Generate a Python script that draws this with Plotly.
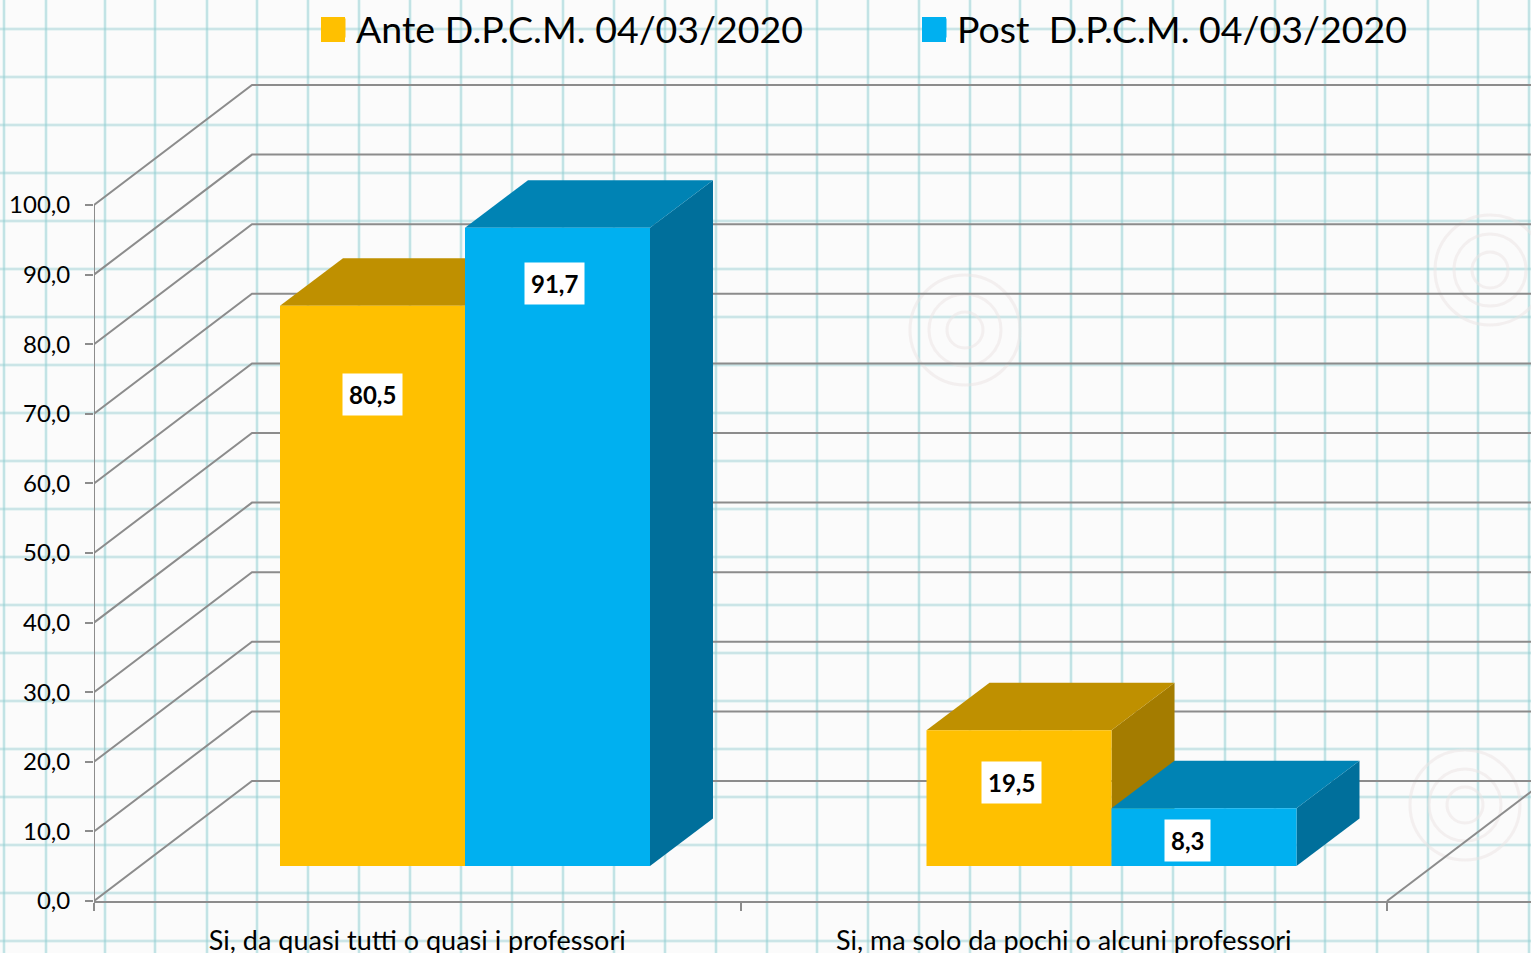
import plotly.graph_objects as go

categories = ["Si, da quasi tutti o quasi i professori", "Si, ma solo da pochi o alcuni professori"]
ante_values = [80.5, 19.5]
post_values = [91.7, 8.3]
y_ticks = [0, 10, 20, 30, 40, 50, 60, 70, 80, 90, 100]
series_names = ["Ante D.P.C.M. 04/03/2020", "Post  D.P.C.M. 04/03/2020"]

W, H = 1531, 953
ML, MB = 94, 52
PX_CAT = 646.5      # pixels per category
PX_VAL = 6.96       # pixels per value unit
px2x = lambda p: p / PX_CAT
px2v = lambda p: p / PX_VAL

WALL_DX, WALL_DV = px2x(158), px2v(120)
BAR_DX, BAR_DV = px2x(63), px2v(47.5)
BASE_V = px2v(35)
BAR_LEFT, BAR_W = px2x(186), px2x(185)

GRID = "#8c8c8c"
STYLES = [
    dict(front="#FFC000", top="#BF9000", side="#A47C00"),
    dict(front="#00B0F0", top="#0083B4", side="#006F9B"),
]

fig = go.Figure()

def poly(xs, ys, color):
    fig.add_trace(go.Scatter(x=xs, y=ys, mode="lines", fill="toself", fillcolor=color,
                             line=dict(width=0, color=color), hoverinfo="skip", showlegend=False))

x_end = (W - ML) / PX_CAT
fig.add_trace(go.Scatter(x=[0, 0], y=[0, y_ticks[-1]], mode="lines", cliponaxis=False,
                         line=dict(color=GRID, width=2), hoverinfo="skip", showlegend=False))
for v in y_ticks:
    fig.add_trace(go.Scatter(x=[0, WALL_DX, x_end], y=[v, v + WALL_DV, v + WALL_DV], mode="lines",
                             line=dict(color=GRID, width=2), hoverinfo="skip", showlegend=False))
fig.add_trace(go.Scatter(x=[2, 2 + WALL_DX], y=[0, WALL_DV], mode="lines",
                         line=dict(color=GRID, width=2), hoverinfo="skip", showlegend=False))

for c in range(len(categories)):
    for s, vals in enumerate([ante_values, post_values]):
        v = vals[c]
        l = c + BAR_LEFT + s * BAR_W
        r = l + BAR_W
        b = BASE_V
        t = BASE_V + v
        st = STYLES[s]
        poly([r, r + BAR_DX, r + BAR_DX, r, r], [b, b + BAR_DV, t + BAR_DV, t, b], st["side"])
        poly([l, r, r + BAR_DX, l + BAR_DX, l], [t, t, t + BAR_DV, t + BAR_DV, t], st["top"])
        poly([l, r, r, l, l], [b, b, t, t, b], st["front"])

# legend entries
for name, st in zip(series_names, STYLES):
    fig.add_trace(go.Scatter(x=[None], y=[None], mode="markers", name=name,
                             marker=dict(symbol="square", size=16, color=st["front"],
                                         line=dict(width=3, color=st["front"]))))

# data labels
label_shift = {(0, 0): (0, -89), (0, 1): (-3, -56), (1, 0): (-8, -52), (1, 1): (-17, -32)}
annotations = []
for c in range(len(categories)):
    for s, vals in enumerate([ante_values, post_values]):
        dx, dy = label_shift[(c, s)]
        annotations.append(dict(
            x=c + BAR_LEFT + s * BAR_W + BAR_W / 2, y=BASE_V + vals[c], xref="x", yref="y",
            text=f"{vals[c]:.1f}".replace(".", ","), showarrow=False, xshift=dx, yshift=dy,
            bgcolor="white", borderpad=6, font=dict(family="Lato", size=24, color="black", weight="bold"),
        ))

# graph-paper background
xpx = [4, 46, 105, 155, 207, 257, 308, 359, 410, 461, 512, 563, 614, 665, 716, 767, 817, 868, 919,
       970, 1020, 1071, 1122, 1173, 1225, 1275, 1325, 1377, 1428, 1478, 1529]
ypx = [29, 77, 125, 173, 221, 269, 317, 365, 413, 461, 509, 557, 605, 653, 701, 749, 797, 845, 893, 941]
pw, ph = W - ML, H - MB
tox = lambda p: (p - ML) / pw
toy = lambda p: 1 - p / ph
shapes = []
for p in ypx:
    shapes.append(dict(type="line", xref="paper", yref="paper", x0=tox(0), x1=tox(W), y0=toy(p), y1=toy(p),
                       layer="below", line=dict(color="rgba(170,218,220,0.45)", width=3)))
    shapes.append(dict(type="line", xref="paper", yref="paper", x0=tox(0), x1=tox(W), y0=toy(p), y1=toy(p),
                       layer="below", line=dict(color="rgba(120,185,190,0.25)", width=1)))
for p in xpx:
    shapes.append(dict(type="line", xref="paper", yref="paper", x0=tox(p), x1=tox(p), y0=toy(0), y1=toy(H),
                       layer="below", line=dict(color="rgba(170,222,224,0.45)", width=3)))
    shapes.append(dict(type="line", xref="paper", yref="paper", x0=tox(p), x1=tox(p), y0=toy(0), y1=toy(H),
                       layer="below", line=dict(color="rgba(110,185,190,0.4)", width=1)))
for cx, cy in [(965, 330), (1465, 805), (1490, 270)]:
    for r in (18, 36, 55):
        shapes.append(dict(type="circle", xref="paper", yref="paper",
                           x0=tox(cx - r), x1=tox(cx + r), y0=toy(cy - r), y1=toy(cy + r),
                           layer="below", line=dict(color="rgba(235,228,228,0.5)", width=3)))
# exact-size legend swatches beneath the legend's own symbols
for st, x0 in zip(STYLES, (321, 922)):
    shapes.append(dict(type="rect", xref="paper", yref="paper", x0=tox(x0), x1=tox(x0 + 24),
                       y0=toy(42), y1=toy(17), layer="above", line=dict(width=0), fillcolor=st["front"]))

fig.update_layout(
    width=W, height=H, margin=dict(l=ML, r=0, t=0, b=MB, pad=0, autoexpand=False),
    paper_bgcolor="#fbfbfb", plot_bgcolor="rgba(0,0,0,0)",
    font=dict(family="Lato", color="black"),
    shapes=shapes, annotations=annotations, hovermode=False,
    legend=dict(orientation="h", x=316 / W, y=1 - 28 / H, xref="container", yref="container",
                xanchor="left", yanchor="middle",
                bgcolor="rgba(0,0,0,0)", font=dict(family="Lato", size=37.5, color="black"),
                entrywidth=556, entrywidthmode="pixels", itemwidth=30),
    xaxis=dict(range=[0, x_end], tickmode="array", tickvals=[0.5, 1.5], ticktext=categories,
               automargin=False,
               showgrid=False, zeroline=False, showline=True, linecolor=GRID, linewidth=2,
               ticks="", tickfont=dict(size=27, family="Lato"), ticklabelstandoff=15,
               minor=dict(tickmode="array", tickvals=[0, 1, 2], ticks="outside", ticklen=8,
                          tickwidth=2, tickcolor=GRID)),
    yaxis=dict(range=[0, ph / PX_VAL], tickmode="array", tickvals=y_ticks, automargin=False,
               ticktext=[f"{v:.1f}".replace(".", ",") for v in y_ticks],
               showgrid=False, zeroline=False, showline=False,
               ticks="outside", ticklen=8, tickwidth=2, tickcolor=GRID,
               tickfont=dict(size=24, family="Lato"), ticklabelstandoff=10),
)

fig.write_html("out.html", config=dict(displayModeBar=False),
               post_script="document.body.style.margin='0';document.body.style.overflow='hidden';")
